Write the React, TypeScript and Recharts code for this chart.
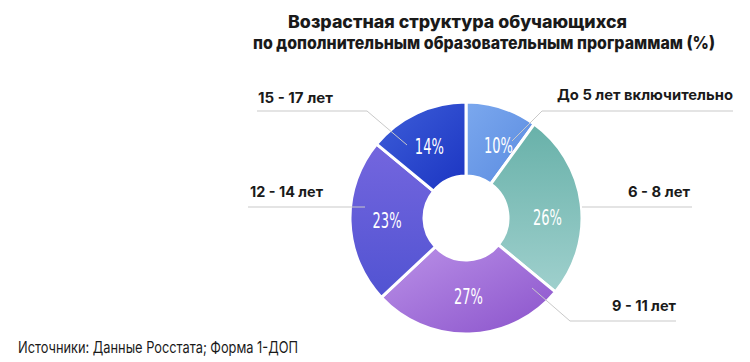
import { PieChart, Pie, Cell } from 'recharts';

const categories = ['До 5 лет включительно', '6 - 8 лет', '9 - 11 лет', '12 - 14 лет', '15 - 17 лет'];
const shares = [10, 26, 27, 23, 14];

const titleLines = ['Возрастная структура обучающихся', 'по дополнительным образовательным программам (%)'];
const sourceText = 'Источники: Данные Росстата; Форма 1-ДОП';

const data = categories.map((name, i) => ({ name, value: shares[i] }));

// gradient stops per slice: [from, to, x2, y2]
const sliceGrads: [string, string, number, number][] = [
  ['#7ba8ee', '#5a8be0', 1, 1],
  ['#68b1a9', '#9fd0cd', 0, 1],
  ['#bb92e8', '#8a52cb', 1, 1],
  ['#7466de', '#5153d2', 0, 1],
  ['#3e5fd9', '#1b34c2', 1, 1],
];

// leader lines + category text, relative to pie centre
const leaders = [
  { s: [46, -77], e: [76, -107], end: 267, tx: 267, ty: -118, anchor: 'end', w: 176 },
  { s: [116, -11], e: [116, -11], end: 226, tx: 224, ty: -21, anchor: 'end', w: 62 },
  { s: [66, 70], e: [104, 103], end: 210, tx: 210, ty: 93, anchor: 'end', w: 64 },
  { s: [-101, -11], e: [-101, -11], end: -218, tx: -216, ty: -21, anchor: 'start', w: 73 },
  { s: [-59, -73], e: [-99, -107], end: -209, tx: -208, ty: -115, anchor: 'start', w: 75 },
];
// small nudges of the % labels off the mid-angle
const pctNudge = [[8, 3], [3, 9], [0, 0], [0, 0], [-3, 0]];

const RADIAN = Math.PI / 180;
const labelFont = 'Inter, "Noto Sans", sans-serif';

function renderLabel(props: any) {
  const { cx, cy, midAngle, innerRadius, outerRadius, index, value } = props;
  const r = (innerRadius + outerRadius) / 2;
  const x = cx + r * Math.cos(-midAngle * RADIAN) + pctNudge[index][0];
  const y = cy + r * Math.sin(-midAngle * RADIAN) + pctNudge[index][1];
  const l = leaders[index];
  return (
    <g key={`lbl-${index}`}>
      <polyline
        points={`${cx + l.s[0]},${cy + l.s[1]} ${cx + l.e[0]},${cy + l.e[1]} ${cx + l.end},${cy + l.e[1]}`}
        fill="none" stroke="#c9c9c9" strokeWidth={1}
      />
      <text x={cx + l.tx} y={cy + l.ty} textAnchor={l.anchor} fontFamily={labelFont}
        fontWeight={700} fontSize={14.5} fill="#1a1a1a" textLength={l.w} lengthAdjust="spacingAndGlyphs">
        {categories[index]}
      </text>
      <text x={x} y={y} textAnchor="middle" dominantBaseline="central"
        fontFamily='"DejaVu Sans Condensed", "Liberation Sans Narrow", sans-serif'
        fontSize={22} fill="#ffffff" textLength={29} lengthAdjust="spacingAndGlyphs">
        {`${value}%`}
      </text>
    </g>
  );
}

export default function App() {
  return (
    <div style={{ position: 'absolute', left: 0, top: 0, width: 750, height: 362, background: '#fff' }}>
      <PieChart width={750} height={362} margin={{ top: 0, right: 0, bottom: 0, left: 0 }}>
        <defs>
          {sliceGrads.map(([a, b, x2, y2], i) => (
            <linearGradient key={i} id={`slice${i}`} x1="0" y1="0" x2={x2} y2={y2}>
              <stop offset="0%" stopColor={a} />
              <stop offset="100%" stopColor={b} />
            </linearGradient>
          ))}
        </defs>
        <Pie
          data={data}
          dataKey="value"
          nameKey="name"
          cx={466}
          cy={218}
          innerRadius={42}
          outerRadius={116}
          startAngle={90}
          endAngle={-270}
          stroke="#ffffff"
          strokeWidth={3}
          label={renderLabel}
          labelLine={false}
          isAnimationActive={false}
        >
          {data.map((d, i) => (
            <Cell key={d.name} fill={`url(#slice${i})`} />
          ))}
        </Pie>
      </PieChart>
      <svg width={750} height={362} style={{ position: 'absolute', left: 0, top: 0, pointerEvents: 'none' }}>
        <text x={288} y={28} fontFamily={labelFont} fontWeight={800} fontSize={17} fill="#1a1a1a"
          textLength={339} lengthAdjust="spacingAndGlyphs">{titleLines[0]}</text>
        <text x={253} y={49} fontFamily={labelFont} fontWeight={800} fontSize={17} fill="#1a1a1a"
          textLength={462} lengthAdjust="spacingAndGlyphs">{titleLines[1]}</text>
        <text x={18} y={353} fontFamily={labelFont} fontWeight={400} fontSize={16} fill="#1a1a1a"
          textLength={280} lengthAdjust="spacingAndGlyphs">{sourceText}</text>
      </svg>
    </div>
  );
}
